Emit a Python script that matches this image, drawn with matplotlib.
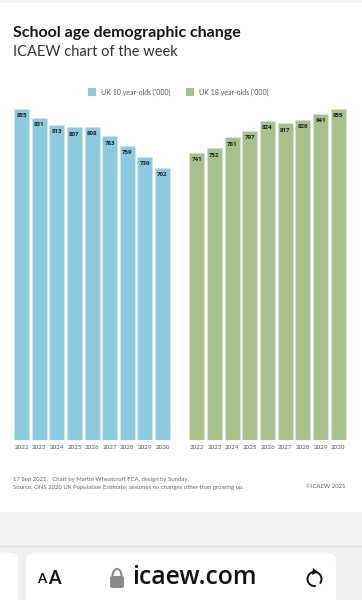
import matplotlib
matplotlib.use('Agg')
import matplotlib.pyplot as plt
from matplotlib.patches import Rectangle, FancyBboxPatch, Arc, Polygon

plt.rcParams['font.family'] = ['Lato', 'DejaVu Sans']

# data
years = ['2022', '2023', '2024', '2025', '2026', '2027', '2028', '2029', '2030']
age_10 = [855, 831, 813, 807, 808, 783, 759, 730, 702]
age_18 = [741, 752, 781, 797, 824, 817, 826, 841, 855]
blue = '#8ccbdf'
green = '#a6c18a'

W, H = 362, 600
fig = plt.figure(figsize=(W / 100, H / 100), dpi=100, facecolor='white')

# overlay in pixel coords for page furniture
bg = fig.add_axes([0, 0, 1, 1], zorder=0)
bg.set_xlim(0, W)
bg.set_ylim(H, 0)
bg.axis('off')

bg.add_patch(Rectangle((0, 0), W, 3, color='#f2f2f2', lw=0))
bg.add_patch(Rectangle((0, 512), W, 34, color='#f3f3f3', lw=0))
bg.add_patch(Rectangle((0, 545), W, 55, color='#f0f0f0', lw=0))
bg.plot([0, W], [545.5, 545.5], color='#dcdcdc', lw=0.8)
bg.add_patch(FancyBboxPatch((-10, 553), 28, 60, boxstyle='round,pad=0,rounding_size=7',
                            fc='white', ec='none'))
bg.add_patch(FancyBboxPatch((26, 553), 310, 60, boxstyle='round,pad=0,rounding_size=9',
                            fc='white', ec='none'))

# title block
bg.text(13, 33.5, 'School age demographic change', fontsize=11.5, fontweight='bold',
        color='#151515', va='center', ha='left')
bg.text(13, 52, 'ICAEW chart of the week', fontsize=10.5, color='#333333',
        va='center', ha='left')

# legend
bg.add_patch(Rectangle((88, 88), 8, 8, color=blue, lw=0))
bg.text(101, 92.3, "UK 10 year-olds ('000)", fontsize=5.0, color='#555555', va='center')
bg.add_patch(Rectangle((186, 88), 8, 8, color=green, lw=0))
bg.text(199, 92.3, "UK 18 year-olds ('000)", fontsize=5.0, color='#555555', va='center')

# footer
bg.text(13, 479, '17 Sep 2021.   Chart by Martin Wheatcroft FCA, design by Sunday.',
        fontsize=4.35, color='#666666', va='center')
bg.text(13, 487, 'Source: ONS 2020 UK Population Estimate; assumes no changes other than growing up.',
        fontsize=4.35, color='#666666', va='center')
bg.text(346, 487, '©ICAEW 2021', fontsize=4.3, color='#666666', va='center', ha='right')

# browser bar
bg.text(37, 579, 'A', fontsize=9.5, color='#111111', va='center', fontweight='bold')
bg.text(48, 578, 'A', fontsize=13, color='#111111', va='center', fontweight='bold')
bg.add_patch(FancyBboxPatch((110, 576), 14, 12, boxstyle='round,pad=0,rounding_size=2',
                            fc='#8a8a8e', ec='none'))
bg.add_patch(Arc((117, 576), 9, 14, theta1=180, theta2=360, ec='#8a8a8e', lw=1.5))
bg.text(132, 578, 'icaew.com', fontsize=17.8, color='#111111', va='center',
        family=['Open Sans', 'DejaVu Sans'], fontweight='semibold')
bg.add_patch(Arc((314.5, 579), 14, 14, theta1=-280, theta2=40, ec='#111111', lw=1.4))
bg.add_patch(Polygon([[313, 568], [318, 572], [312, 575]], closed=True, fc='#111111', ec='none'))


def panel(left_px, right_px, values, colour):
    ax = fig.add_axes([left_px / W, (H - 439.5) / H, (right_px - left_px) / W, 331 / H], zorder=1)
    ax.patch.set_alpha(0)
    x = range(len(values))
    bars = ax.bar(x, values, width=0.85, color=colour, edgecolor='#d5e6de', linewidth=0.4)
    for b, v in zip(bars, values):
        ax.text(b.get_x() + b.get_width() / 2, v - 18, str(v), ha='center', va='center',
                fontsize=4.4, fontweight='bold', color='#222222',
                family=['Open Sans', 'DejaVu Sans'])
    ax.set_xlim(-0.5, len(values) - 0.5)
    ax.set_ylim(0, 855)
    ax.set_xticks(list(x))
    ax.set_xticklabels(years, fontsize=4.5, color='#555555')
    ax.set_yticks([])
    ax.tick_params(axis='x', length=0, pad=4)
    for s in ax.spines.values():
        s.set_visible(False)
    return ax


panel(12.8, 171.4, age_10, blue)
panel(188, 347, age_18, green)

fig.savefig('out.png', dpi=100)
